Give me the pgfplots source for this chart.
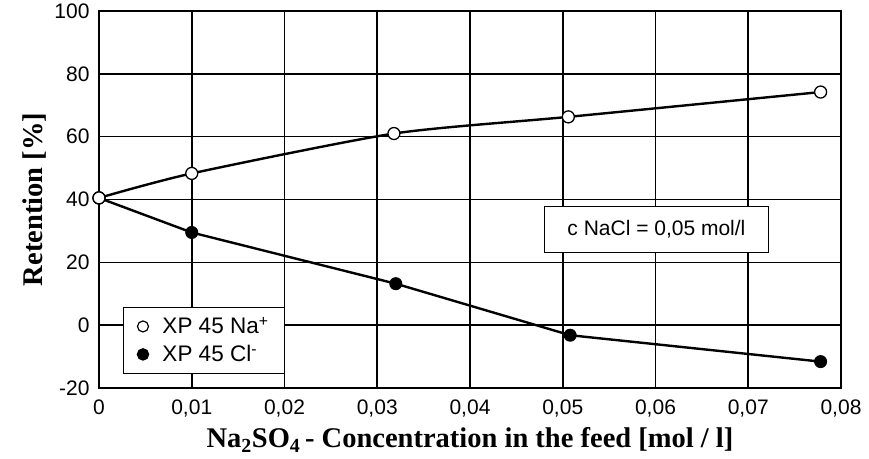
\documentclass[border=0pt]{standalone}
\usepackage{fontspec}
\setmainfont{Liberation Sans}
\newfontfamily\timesbf{Liberation Serif}[BoldFont={Liberation Serif Bold}]
\usepackage{pgfplots}
\pgfplotsset{compat=1.18}

\begin{document}
\begin{tikzpicture}
\begin{axis}[
    name=ax,
    scale only axis,
    width=742pt, height=377pt,
    xmin=0, xmax=0.08, ymin=-20, ymax=100,
    xtick={0,0.01,0.02,0.03,0.04,0.05,0.06,0.07,0.08},
    ytick={-20,0,20,40,60,80,100},
    grid=major,
    major grid style={black, line width=1.6pt},
    axis line style={line width=2.8pt},
    major tick length=0pt,
    scaled x ticks=false,
    /pgf/number format/assume math mode=true,
    ticklabel style={font=\fontsize{21}{23}\selectfont},
    xticklabel style={yshift=-8pt, /pgf/number format/.cd, use comma, fixed, precision=2},
    yticklabel style={xshift=-6pt},
    xlabel={\timesbf\bfseries Na\textsubscript{2}SO\textsubscript{4}\,- Concentration in the feed [mol / l]},
    ylabel={\timesbf\bfseries Retention [\%]},
    label style={font=\fontsize{28.5}{31}\selectfont},
    xlabel style={at={(axis description cs:0.5,0)}, anchor=center, yshift=-52pt},
    ylabel style={at={(axis description cs:0,0.5)}, anchor=center, yshift=64pt},
    legend style={at={(rel axis cs:0.032,0.037)}, anchor=south west,
        draw=black, line width=1.5pt, font=\fontsize{22.5}{24}\selectfont,
        inner xsep=14pt, inner ysep=8pt, row sep=6pt,
        /tikz/every odd column/.append style={column sep=12pt}},
    legend cell align=left,
]
% XP 45 Na+
\addplot[black, line width=2.4pt, smooth, tension=0.4, mark=*, mark size=6pt,
    mark options={fill=white, line width=1.3pt}, forget plot]
    coordinates {(0,40.5) (0.01,48.3) (0.0318,61) (0.0506,66.3) (0.0778,74.2)};
% XP 45 Cl-
\addplot[black, line width=2.4pt, mark=*, mark size=6pt,
    mark options={fill=black, line width=1pt}, forget plot]
    coordinates {(0,40.5) (0.01,29.5) (0.032,13.2) (0.0508,-3.2) (0.0778,-11.6)};
% redraw the shared first mark open
\addplot[only marks, black, mark=*, mark size=6pt,
    mark options={fill=white, line width=1.3pt}, forget plot]
    coordinates {(0,40.5)};
\addlegendimage{only marks, black, mark=o, mark size=5.5pt, mark options={line width=1.2pt}}
\addlegendentry{XP 45 Na\textsuperscript{+}}
\addlegendimage{only marks, black, mark=*, mark size=5.5pt}
\addlegendentry{XP 45 Cl\textsuperscript{-}}
\node[draw=black, line width=1.5pt, fill=white, minimum width=224pt, minimum height=46pt,
    font=\fontsize{21}{24}\selectfont] at (axis cs:0.0601,30.4) {c NaCl = 0,05 mol/l};
\end{axis}
\pgfresetboundingbox
\path[use as bounding box] ([shift={(-99pt,-70pt)}]ax.south west)
    rectangle ([shift={(28pt,11pt)}]ax.north east);
\end{tikzpicture}
\end{document}
